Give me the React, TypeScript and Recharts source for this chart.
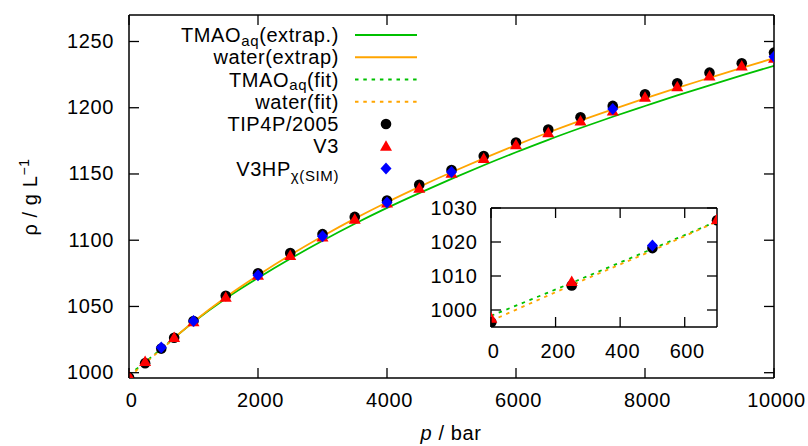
import { ComposedChart, Line, Scatter, XAxis, YAxis } from "recharts";

const FONT = "'Liberation Sans', Arial, Helvetica, sans-serif";
const GREEN = "#00c000";
const ORANGE = "#ffa500";
const TICK = 10;

// simulation pressures (bar) and densities (g/L)
const pressure = [1, 250, 500, 700, 1000, 1500, 2000, 2500, 3000, 3500, 4000, 4500, 5000, 5500, 6000, 6500, 7000, 7500, 8000, 8500, 9000, 9500, 10000];
const tip4p2005 = [996.4, 1007.2, 1018.2, 1026.4, 1039.0, 1058.0, 1075.0, 1090.3, 1104.6, 1117.6, 1130.0, 1141.8, 1153.0, 1163.6, 1173.7, 1183.6, 1192.8, 1201.4, 1210.2, 1218.5, 1226.5, 1233.6, 1241.6];
const v3 = [997.6, 1008.4, null, 1026.6, 1038.5, 1057.0, 1073.5, 1088.4, 1102.5, 1115.8, 1128.0, 1139.3, 1150.5, 1161.6, 1172.0, 1181.2, 1190.0, 1197.6, 1208.0, 1215.9, 1224.0, 1231.5, 1237.3];
const v3hpPressure = [500, 1000, 2000, 3000, 4000, 5000, 7500, 10000];
const v3hp = [1019.0, 1039.0, 1073.5, 1103.0, 1128.4, 1151.4, 1199.1, 1238.5];

// extrapolated curves
const extrapPressure = [700, 1000, 1500, 2000, 2500, 3000, 3500, 4000, 4500, 5000, 5500, 6000, 6500, 7000, 7500, 8000, 8500, 9000, 9500, 10000];
const tmaoExtrap = [1026.3, 1038.2, 1056.0, 1071.5, 1086.0, 1099.6, 1112.4, 1124.4, 1135.6, 1146.3, 1156.6, 1166.4, 1175.8, 1184.7, 1193.2, 1201.3, 1209.3, 1216.9, 1224.4, 1231.7];
const waterExtrap = [1026.3, 1038.5, 1057.0, 1073.5, 1088.8, 1103.0, 1116.3, 1128.7, 1140.3, 1151.3, 1161.8, 1171.8, 1181.3, 1190.3, 1198.8, 1207.0, 1215.0, 1222.6, 1230.1, 1237.4];

// fits in the low pressure range
const fitPressure = [0, 250, 500, 700];
const tmaoFit = [998.3, 1008.0, 1018.0, 1026.1];
const waterFit = [996.8, 1007.3, 1017.5, 1026.0];

const mainXTicks = [0, 2000, 4000, 6000, 8000, 10000];
const mainYTicks = [1000, 1050, 1100, 1150, 1200, 1250];
const insetXTicks = [0, 200, 400, 600];
const insetYTicks = [1000, 1010, 1020, 1030];

const toPoints = (ps: number[], vs: (number | null)[]) =>
  ps.map((p, i) => ({ p, rho: vs[i] })).filter((d) => d.rho !== null);

const tipData = toPoints(pressure, tip4p2005);
const v3Data = toPoints(pressure, v3);
const v3hpData = toPoints(v3hpPressure, v3hp);
const tmaoExtrapData = toPoints(extrapPressure, tmaoExtrap);
const waterExtrapData = toPoints(extrapPressure, waterExtrap);
const tmaoFitData = toPoints(fitPressure, tmaoFit);
const waterFitData = toPoints(fitPressure, waterFit);
const inset = (d: { p: number }[]) => d.filter((e) => e.p <= 700);

const textStyle = { fontFamily: FONT, fontSize: 20, letterSpacing: 0.6, fill: "#000" };

const Dot = (props: any) => <circle cx={props.cx} cy={props.cy} r={5.3} fill="#000" />;
const Tri = ({ cx, cy }: any) => (
  <path d={`M${cx},${cy - 6} L${cx + 6},${cy + 4.5} L${cx - 6},${cy + 4.5} Z`} fill="#ff0000" />
);
const Diamond = ({ cx, cy }: any) => (
  <path d={`M${cx},${cy - 6} L${cx + 5.5},${cy} L${cx},${cy + 6} L${cx - 5.5},${cy} Z`} fill="#0000ff" />
);

const xTick = (dir: number, labelDy: number | null) => (p: any) => (
  <g>
    <line x1={p.x} x2={p.x} y1={p.y} y2={p.y + dir * TICK} stroke="#000" strokeWidth={1.3} />
    {labelDy !== null && (
      <text x={p.x + 2.5} y={p.y + labelDy} textAnchor="middle" {...textStyle}>
        {p.payload.value}
      </text>
    )}
  </g>
);

const yTick = (dir: number, labelDx: number | null) => (p: any) => (
  <g>
    <line x1={p.x} x2={p.x + dir * TICK} y1={p.y} y2={p.y} stroke="#000" strokeWidth={1.3} />
    {labelDx !== null && (
      <text x={p.x - labelDx} y={p.y + 6.5} textAnchor="end" {...textStyle}>
        {p.payload.value}
      </text>
    )}
  </g>
);

const axisLine = { stroke: "#000", strokeWidth: 1.5 };
const common = { tickSize: 0, tickMargin: 0, tickLine: false, axisLine, interval: 0 as const, allowDataOverflow: true };

function Series({ zoom }: { zoom: boolean }) {
  const pick = (d: any[]) => (zoom ? inset(d) : d);
  return [
    !zoom && (
      <Line key="te" xAxisId="b" yAxisId="l" data={tmaoExtrapData} dataKey="rho" type="monotone" stroke={GREEN} strokeWidth={1.8} dot={false} isAnimationActive={false} />
    ),
    !zoom && (
      <Line key="we" xAxisId="b" yAxisId="l" data={waterExtrapData} dataKey="rho" type="monotone" stroke={ORANGE} strokeWidth={1.8} dot={false} isAnimationActive={false} />
    ),
    <Line key="tf" xAxisId="b" yAxisId="l" data={tmaoFitData} dataKey="rho" type="monotone" stroke={GREEN} strokeWidth={1.8} strokeDasharray="3.5 4.8" dot={false} isAnimationActive={false} />,
    <Line key="wf" xAxisId="b" yAxisId="l" data={waterFitData} dataKey="rho" type="monotone" stroke={ORANGE} strokeWidth={1.8} strokeDasharray="3.5 4.8" dot={false} isAnimationActive={false} />,
    <Scatter key="tip" xAxisId="b" yAxisId="l" data={pick(tipData)} dataKey="rho" shape={Dot} isAnimationActive={false} />,
    <Scatter key="v3" xAxisId="b" yAxisId="l" data={pick(v3Data)} dataKey="rho" shape={Tri} isAnimationActive={false} />,
    <Scatter key="v3hp" xAxisId="b" yAxisId="l" data={pick(v3hpData)} dataKey="rho" shape={Diamond} isAnimationActive={false} />,
  ];
}

const rowY = (i: number) => 35 + i * 22.25;
const SUB = 15;

function LegendAndTitles() {
  const lx1 = 355, lx2 = 417, mx = 386, tx = 339;
  const rows: { label: any; draw: (y: number) => any }[] = [
    { label: <>TMAO<tspan fontSize={SUB} dy={3.5}>aq</tspan><tspan dy={-3.5}>(extrap.)</tspan></>, draw: (y) => <line x1={lx1} x2={lx2} y1={y} y2={y} stroke={GREEN} strokeWidth={1.8} /> },
    { label: <>water(extrap)</>, draw: (y) => <line x1={lx1} x2={lx2} y1={y} y2={y} stroke={ORANGE} strokeWidth={1.8} /> },
    { label: <>TMAO<tspan fontSize={SUB} dy={3.5}>aq</tspan><tspan dy={-3.5}>(fit)</tspan></>, draw: (y) => <line x1={lx1} x2={lx2} y1={y} y2={y} stroke={GREEN} strokeWidth={1.8} strokeDasharray="3.5 4.8" /> },
    { label: <>water(fit)</>, draw: (y) => <line x1={lx1} x2={lx2} y1={y} y2={y} stroke={ORANGE} strokeWidth={1.8} strokeDasharray="3.5 4.8" /> },
    { label: <>TIP4P/2005</>, draw: (y) => <Dot cx={mx} cy={y} /> },
    { label: <>V3</>, draw: (y) => <Tri cx={mx} cy={y} /> },
    { label: <>V3HP<tspan fontSize={SUB} dy={5}>χ(SIM)</tspan></>, draw: (y) => <Diamond cx={mx} cy={y} /> },
  ];
  return (
    <svg width={808} height={446} style={{ position: "absolute", left: 0, top: 0, pointerEvents: "none" }}>
      {rows.map((r, i) => (
        <g key={i}>
          <text x={tx} y={rowY(i) + 7} textAnchor="end" {...textStyle}>{r.label}</text>
          {r.draw(rowY(i))}
        </g>
      ))}
      <text x={451} y={440} textAnchor="middle" {...textStyle}>
        <tspan fontStyle="italic">p</tspan> / bar
      </text>
      <text transform="rotate(-90)" x={-197} y={37} textAnchor="middle" {...textStyle}>
        ρ / g L<tspan fontSize={14} dy={-8}>−1</tspan>
      </text>
    </svg>
  );
}

export default function App() {
  return (
    <div style={{ position: "absolute", left: 0, top: 0, width: 808, height: 446, background: "#fff" }}>
      <div style={{ position: "absolute", left: 0, top: 0 }}>
        <ComposedChart width={808} height={446} margin={{ top: 14, right: 33, bottom: 0, left: 0 }}>
          <XAxis xAxisId="b" type="number" dataKey="p" domain={[0, 10000]} ticks={mainXTicks} height={68} tick={xTick(-1, 29)} {...common} />
          <XAxis xAxisId="t" orientation="top" type="number" dataKey="p" domain={[0, 10000]} ticks={mainXTicks} height={1} tick={xTick(1, null)} {...common} />
          <YAxis yAxisId="l" type="number" domain={[996, 1270]} ticks={mainYTicks} width={129} tick={yTick(1, 15)} {...common} />
          <YAxis yAxisId="r" orientation="right" type="number" domain={[996, 1270]} ticks={mainYTicks} width={1} tick={yTick(-1, null)} {...common} />
          {Series({ zoom: false })}
        </ComposedChart>
      </div>
      <div style={{ position: "absolute", left: 0, top: 0 }}>
        <ComposedChart width={808} height={446} margin={{ top: 207, right: 90, bottom: 118, left: 490 }}>
          <XAxis xAxisId="b" type="number" dataKey="p" domain={[0, 700]} ticks={insetXTicks} height={1} tick={xTick(-1, 31)} {...common} />
          <XAxis xAxisId="t" orientation="top" type="number" dataKey="p" domain={[0, 700]} ticks={insetXTicks} height={1} tick={xTick(1, null)} {...common} />
          <YAxis yAxisId="l" type="number" domain={[995, 1030]} ticks={insetYTicks} width={1} tick={yTick(1, 13.5)} {...common} />
          <YAxis yAxisId="r" orientation="right" type="number" domain={[995, 1030]} ticks={insetYTicks} width={1} tick={yTick(-1, null)} {...common} />
          {Series({ zoom: true })}
        </ComposedChart>
      </div>
      <LegendAndTitles />
    </div>
  );
}
